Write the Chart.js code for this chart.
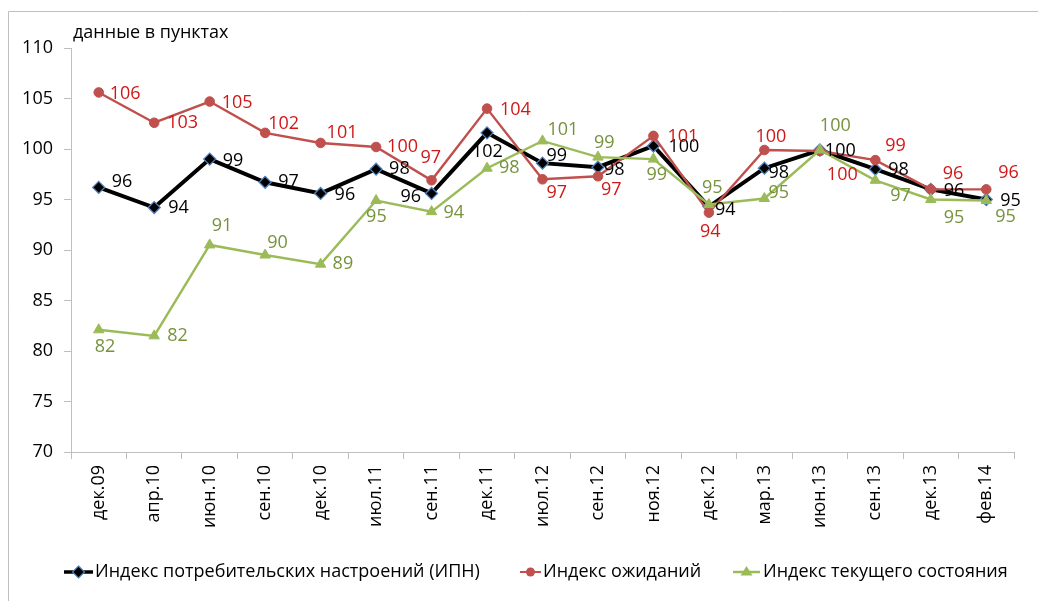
<!DOCTYPE html>
<html>
<head>
<meta charset="utf-8">
<script src="https://cdn.jsdelivr.net/npm/chart.js@4.4.1/dist/chart.umd.min.js"></script>
<style>
html,body{margin:0;padding:0;background:#fff;}
#wrap{width:1038px;height:601px;position:relative;}
</style>
</head>
<body>
<div id="wrap"><canvas id="c" width="1038" height="601"></canvas></div>
<script>
const categories = ['дек.09','апр.10','июн.10','сен.10','дек.10','июл.11','сен.11','дек.11','июл.12','сен.12','ноя.12','дек.12','мар.13','июн.13','сен.13','дек.13','фев.14'];
const ipnValues = [96.2,94.2,99.0,96.7,95.6,98.0,95.6,101.6,98.6,98.2,100.3,94.3,98.1,99.9,98.0,96.0,95.0];
const expectValues = [105.6,102.6,104.7,101.6,100.6,100.2,96.9,104.0,97.0,97.3,101.3,93.7,99.9,99.8,98.9,96.0,96.0];
const currentValues = [82.1,81.5,90.5,89.5,88.6,94.9,93.8,98.1,100.8,99.2,99.0,94.5,95.1,99.9,96.9,95.0,94.9];
const seriesNames = ['Индекс потребительских настроений (ИПН)','Индекс ожиданий','Индекс текущего состояния'];
const yTicks = [70,75,80,85,90,95,100,105,110];
const axisTitle = 'данные в пунктах';

const FONT = '"Open Sans", "DejaVu Sans", sans-serif';
const C_BLACK = '#000000', C_RED = '#C0504D', C_GREEN = '#9BBB59';
const T_RED = '#D01818', T_GREEN = '#76923C';

// label offsets (dx, dy) relative to each point, text left-aligned
const labelOffsets = [
  [[13,-6],[14,0],[13,2],[13,0],[14,1],[13,0],[-31,3],[-15,19],[4,-7],[6,3],[15,1],[6,3],[4,5],[5,1],[13,1],[13,1],[14,1]],
  [[11,1],[13,0],[12,1],[3,-9],[6,-10],[11,0],[-11,-22],[13,1],[4,14],[3,14],[14,1],[-9,19],[-9,-13],[7,24],[10,-14],[12,-16],[12,-17]],
  [[-4,17],[13,0],[2,-19],[2,-12],[12,0],[-10,16],[12,1],[12,0],[5,-11],[-4,-14],[-7,16],[-7,-17],[4,-6],[0,-24],[15,16],[13,18],[9,16]]
];
const labelColors = [C_BLACK, T_RED, T_GREEN];

const labelPlugin = {
  id: 'pointLabels',
  afterDatasetsDraw(chart) {
    const ctx = chart.ctx;
    ctx.save();
    ctx.font = '18px ' + FONT;
    ctx.textAlign = 'left';
    ctx.textBaseline = 'middle';
    chart.data.datasets.forEach((ds, di) => {
      const meta = chart.getDatasetMeta(di);
      ctx.fillStyle = labelColors[di];
      meta.data.forEach((pt, i) => {
        const off = labelOffsets[di][i];
        ctx.fillText(String(Math.round(ds.data[i])), pt.x + off[0], pt.y + off[1]);
      });
    });
    ctx.restore();
  }
};

function drawMarker(ctx, type, x, y, fill, stroke) {
  ctx.beginPath();
  if (type === 'diamond') {
    const r = 6;
    ctx.moveTo(x, y - r); ctx.lineTo(x + r, y); ctx.lineTo(x, y + r); ctx.lineTo(x - r, y); ctx.closePath();
  } else if (type === 'circle') {
    ctx.arc(x, y, 4.5, 0, Math.PI * 2);
  } else {
    const r = 6;
    ctx.moveTo(x, y - r); ctx.lineTo(x + r, y + r * 0.6); ctx.lineTo(x - r, y + r * 0.6); ctx.closePath();
  }
  ctx.fillStyle = fill; ctx.fill();
  if (stroke) { ctx.strokeStyle = stroke; ctx.lineWidth = 1.2; ctx.stroke(); }
}

const decorPlugin = {
  id: 'decor',
  beforeDraw(chart) {
    const ctx = chart.ctx;
    ctx.save();
    ctx.strokeStyle = '#BFBFBF';
    ctx.lineWidth = 1;
    ctx.beginPath();
    ctx.moveTo(8.5, 601); ctx.lineTo(8.5, 11.5); ctx.lineTo(1038, 11.5);
    ctx.stroke();
    ctx.restore();
  },
  afterDraw(chart) {
    const ctx = chart.ctx;
    ctx.save();
    ctx.font = '18px ' + FONT;
    ctx.fillStyle = '#000';
    ctx.textAlign = 'left';
    ctx.textBaseline = 'middle';
    ctx.fillText(axisTitle, 73, 33);
    // legend
    const ly = 572;
    const items = [
      {x0: 64, x1: 93, tx: 95, color: C_BLACK, lw: 3.5, m: 'diamond', fill: '#000', stroke: '#4F81BD'},
      {x0: 520, x1: 541, tx: 543, color: C_RED, lw: 2, m: 'circle', fill: C_RED, stroke: null},
      {x0: 733, x1: 760, tx: 763, color: C_GREEN, lw: 2.5, m: 'triangle', fill: C_GREEN, stroke: null}
    ];
    items.forEach((it, i) => {
      ctx.strokeStyle = it.color; ctx.lineWidth = it.lw;
      ctx.beginPath(); ctx.moveTo(it.x0, ly); ctx.lineTo(it.x1, ly); ctx.stroke();
      drawMarker(ctx, it.m, (it.x0 + it.x1) / 2, ly, it.fill, it.stroke);
      ctx.fillStyle = '#000';
      ctx.fillText(seriesNames[i], it.tx, ly);
    });
    ctx.restore();
  }
};

new Chart(document.getElementById('c'), {
  type: 'line',
  data: {
    labels: categories,
    datasets: [
      {label: seriesNames[0], data: ipnValues, borderColor: C_BLACK, borderWidth: 4, backgroundColor: '#000',
       pointStyle: 'rectRot', pointRadius: 6, pointBorderColor: '#4F81BD', pointBorderWidth: 1.3, pointBackgroundColor: '#000', tension: 0, order: 2},
      {label: seriesNames[1], data: expectValues, borderColor: C_RED, borderWidth: 2.4, backgroundColor: C_RED,
       pointStyle: 'circle', pointRadius: 4.8, pointBorderColor: C_RED, pointBorderWidth: 1, pointBackgroundColor: C_RED, tension: 0, order: 1},
      {label: seriesNames[2], data: currentValues, borderColor: C_GREEN, borderWidth: 2.4, backgroundColor: C_GREEN,
       pointStyle: 'triangle', pointRadius: 6, pointBorderColor: C_GREEN, pointBorderWidth: 1, pointBackgroundColor: C_GREEN, tension: 0, order: 0}
    ]
  },
  options: {
    responsive: false,
    animation: false,
    devicePixelRatio: 1,
    layout: {padding: {top: 48, right: 24, bottom: 0, left: 0}},
    plugins: {legend: {display: false}, tooltip: {enabled: false}, title: {display: false}},
    scales: {
      x: {
        type: 'category',
        offset: true,
        grid: {offset: true, drawOnChartArea: false, drawTicks: true, tickLength: 7, color: '#BFBFBF'},
        border: {display: true, color: '#BFBFBF', width: 1},
        ticks: {autoSkip: false, maxRotation: 90, minRotation: 90, padding: 6, color: '#000', font: {family: FONT, size: 18}},
        afterFit(scale) { scale.height = 601 - 452; }
      },
      y: {
        min: 70, max: 110,
        afterBuildTicks(scale) { scale.ticks = yTicks.map(v => ({value: v})); },
        grid: {drawOnChartArea: false, drawTicks: true, tickLength: 7, color: '#BFBFBF'},
        border: {display: true, color: '#BFBFBF', width: 1},
        ticks: {padding: 11, color: '#000', font: {family: FONT, size: 18}},
        afterFit(scale) { scale.width = 71; }
      }
    }
  },
  plugins: [labelPlugin, decorPlugin]
});
</script>
</body>
</html>
